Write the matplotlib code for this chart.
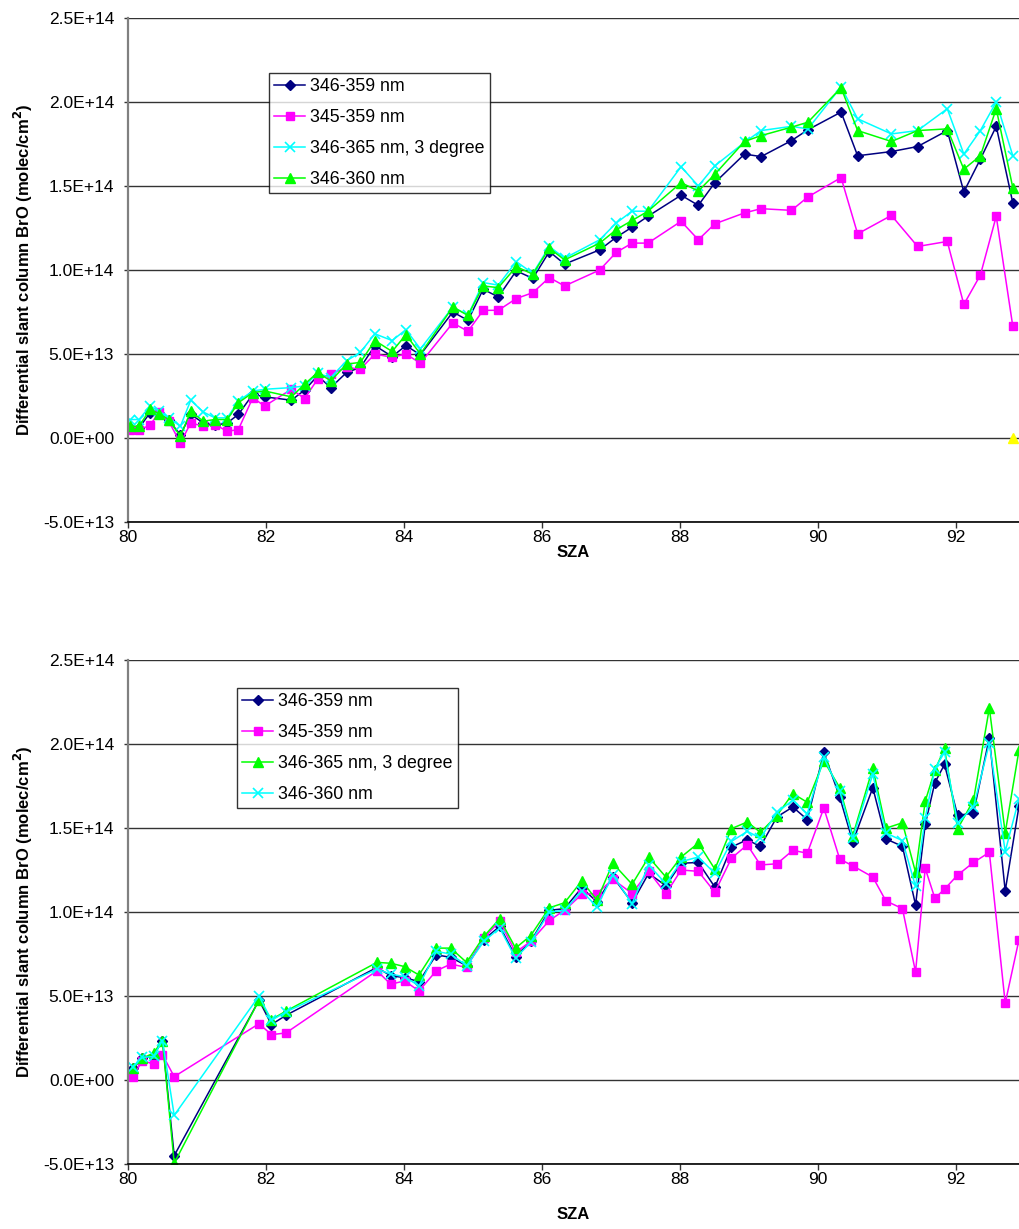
import matplotlib
matplotlib.use("Agg")
import matplotlib.pyplot as plt
from matplotlib.ticker import FuncFormatter, MultipleLocator

plt.rcParams['font.family'] = ['Liberation Sans', 'DejaVu Sans']

UNIT = 1e13  # column values below are in units of 1e13 molec/cm2

# ---- upper panel ----
sza_top = [80.03, 80.16, 80.32, 80.45, 80.59, 80.76, 80.91, 81.09, 81.26, 81.44,
           81.60, 81.81, 81.98, 82.37, 82.56, 82.75, 82.94, 83.17, 83.37, 83.58,
           83.83, 84.03, 84.24, 84.71, 84.93, 85.15, 85.37, 85.63, 85.87, 86.11,
           86.33, 86.84, 87.08, 87.31, 87.54, 88.02, 88.27, 88.51, 88.94, 89.18,
           89.62, 89.86, 90.34, 90.58, 91.07, 91.45, 91.88, 92.12, 92.36, 92.59,
           92.83]
top_346_359 = [0.6, 0.6, 1.5, 1.5, 1.05, 0.2, 1.4, 0.9, 0.75, 0.9,
               1.4, 2.6, 2.45, 2.25, 2.85, 3.7, 3.0, 3.9, 4.2, 5.5,
               4.85, 5.5, 4.95, 7.5, 7.0, 8.85, 8.4, 9.95, 9.5, 11.1,
               10.35, 11.2, 11.95, 12.55, 13.2, 14.45, 13.85, 15.2, 16.9, 16.75,
               17.7, 18.35, 19.4, 16.8, 17.05, 17.35, 18.3, 14.65, 16.6, 18.55,
               14.0]
top_345_359 = [0.5, 0.5, 0.75, 1.55, 1.0, -0.3, 0.9, 0.7, 0.8, 0.4,
               0.5, 2.4, 1.9, 2.9, 2.35, 3.5, 3.8, 4.2, 4.1, 5.0,
               4.8, 5.0, 4.45, 6.85, 6.35, 7.6, 7.6, 8.3, 8.65, 9.55,
               9.05, 10.0, 11.05, 11.6, 11.6, 12.9, 11.8, 12.75, 13.4, 13.65,
               13.55, 14.35, 15.5, 12.15, 13.25, 11.4, 11.7, 7.95, 9.7, 13.2,
               6.65]
top_346_365_3deg = [1.1, 1.1, 1.9, 1.6, 1.2, 0.7, 2.25, 1.55, 1.2, 1.2,
                    2.2, 2.8, 2.9, 3.0, 3.1, 3.85, 3.6, 4.6, 5.1, 6.2,
                    5.8, 6.45, 5.3, 7.8, 7.3, 9.25, 9.1, 10.5, 9.8, 11.4,
                    10.7, 11.8, 12.8, 13.5, 13.5, 16.15, 15.0, 16.2, 17.6, 18.3,
                    18.55, 18.4, 20.9, 19.0, 18.1, 18.3, 19.6, 16.9, 18.3, 20.0,
                    16.8]
top_346_360 = [0.7, 0.7, 1.7, 1.45, 1.1, 0.1, 1.6, 1.0, 1.1, 1.1,
               2.1, 2.7, 2.8, 2.45, 3.2, 3.9, 3.4, 4.4, 4.5, 5.8,
               5.15, 6.15, 5.0, 7.8, 7.3, 9.05, 8.95, 10.2, 9.75, 11.3,
               10.6, 11.6, 12.4, 12.95, 13.5, 15.2, 14.7, 15.7, 17.65, 18.0,
               18.5, 18.8, 20.85, 18.3, 17.65, 18.3, 18.4, 16.0, 16.8, 19.6,
               14.9]
top_extra_sza = [92.83]
top_extra = [0.0]

# ---- lower panel ----
sza_bot = [80.07, 80.21, 80.37, 80.50, 80.67, 81.90, 82.08, 82.29, 83.61, 83.81,
           84.01, 84.22, 84.47, 84.68, 84.91, 85.16, 85.39, 85.62, 85.84, 86.11,
           86.33, 86.58, 86.80, 87.03, 87.31, 87.55, 87.80, 88.02, 88.27, 88.51,
           88.75, 88.98, 89.17, 89.41, 89.64, 89.85, 90.09, 90.32, 90.51, 90.80,
           90.99, 91.23, 91.42, 91.56, 91.70, 91.84, 92.03, 92.26, 92.49, 92.72,
           92.92]
bot_346_359 = [0.7, 1.3, 1.45, 2.35, -4.5, 4.75, 3.3, 3.85, 6.7, 6.2,
               6.1, 5.85, 7.45, 7.3, 6.8, 8.35, 9.15, 7.35, 8.25, 10.1,
               10.2, 11.45, 10.6, 12.1, 10.55, 12.3, 11.56, 12.9, 12.95, 11.48,
               13.87, 14.3, 13.9, 15.66, 16.25, 15.5, 19.5, 16.85, 14.17, 17.4,
               14.35, 13.91, 10.42, 15.21, 17.7, 18.78, 15.75, 15.89, 20.38, 11.26,
               16.3]
bot_345_359 = [0.2, 1.15, 0.95, 1.5, 0.2, 3.35, 2.7, 2.8, 6.5, 5.7,
               5.9, 5.3, 6.5, 6.9, 6.7, 8.45, 9.45, 7.6, 8.25, 9.5,
               10.1, 11.05, 11.1, 11.95, 11.1, 12.42, 11.08, 12.5, 12.42, 11.18,
               13.2, 14.0, 12.8, 12.87, 13.67, 13.5, 16.19, 13.15, 12.75, 12.08,
               10.66, 10.2, 6.43, 12.6, 10.82, 11.36, 12.2, 12.95, 13.55, 4.57,
               8.36]
bot_346_365_3deg = [0.7, 1.3, 1.6, 2.35, -4.95, 4.75, 3.6, 4.1, 7.0, 6.95,
                    6.75, 6.25, 7.85, 7.85, 7.0, 8.55, 9.6, 7.85, 8.6, 10.25,
                    10.55, 11.85, 10.7, 12.9, 11.65, 13.27, 12.08, 13.27, 14.1, 12.55,
                    14.96, 15.36, 14.74, 15.74, 17.05, 16.53, 19.0, 17.4, 14.54, 18.58,
                    14.99, 15.31, 12.36, 16.59, 18.44, 19.74, 14.95, 16.65, 22.14, 14.71,
                    19.64]
bot_346_360 = [0.8, 1.35, 1.4, 2.35, -2.1, 5.0, 3.55, 4.05, 6.6, 6.3,
               6.15, 5.6, 7.65, 7.5, 6.8, 8.25, 9.05, 7.25, 8.2, 10.0,
               10.1, 11.25, 10.3, 12.2, 10.5, 12.8, 11.68, 13.0, 13.27, 12.3,
               14.2, 14.8, 14.4, 15.93, 16.65, 15.85, 19.2, 17.2, 14.4, 18.2,
               14.7, 14.25, 11.52, 15.59, 18.54, 19.5, 15.31, 16.25, 20.04, 13.6,
               16.75]

NAVY, MAGENTA, CYAN, LIME, YELLOW = '#000080', '#FF00FF', '#00FFFF', '#00FF00', '#FFFF00'
LW = 1.1

styles = {
    'diamond': dict(marker='D', ms=5.0),
    'square': dict(marker='s', ms=6.0),
    'triangle': dict(marker='^', ms=6.5),
    'x': dict(marker='x', ms=6.5, mew=1.2),
}


def scaled(vals):
    return [v * UNIT for v in vals]


def style_axes(ax, xlabelpad):
    ax.set_xlim(80, 92.92)
    ax.set_ylim(-5e13, 2.5e14)
    ax.xaxis.set_major_locator(MultipleLocator(2))
    ax.yaxis.set_major_locator(MultipleLocator(5e13))
    ax.yaxis.set_major_formatter(FuncFormatter(lambda v, p: f"{v:.1E}"))
    ax.grid(axis='y', color='#333333', linewidth=1.0)
    ax.set_axisbelow(True)
    for s in ('top', 'right'):
        ax.spines[s].set_visible(False)
    ax.spines['left'].set_color('#808080')
    ax.spines['left'].set_linewidth(1.6)
    ax.spines['bottom'].set_color('black')
    ax.spines['bottom'].set_linewidth(1.2)
    ax.tick_params(axis='y', direction='out', length=3, width=1,
                   labelsize=12.5, pad=7, color='#333333')
    ax.tick_params(axis='x', direction='out', length=4, width=1,
                   labelsize=12.5, pad=2, color='#333333')
    ax.set_xlabel('SZA', fontsize=12, fontweight='bold', labelpad=xlabelpad)
    ax.set_ylabel('Differential slant column BrO (molec/cm$^\\mathbf{2}$)',
                  fontsize=12, fontweight='bold', labelpad=6)


def add_legend(ax, anchor):
    leg = ax.legend(loc='upper left', bbox_to_anchor=anchor, fontsize=12.8,
                    frameon=True, fancybox=False, edgecolor='black',
                    handlelength=1.75, handletextpad=0.25, borderpad=0.3,
                    borderaxespad=0, labelspacing=0.78)
    leg.get_frame().set_linewidth(1.0)


W, H = 1019, 1229
fig = plt.figure(figsize=(W / 100, H / 100), dpi=100)

ax1 = fig.add_axes([128 / W, (H - 522) / H, 891 / W, 504 / H])
ax1.plot(sza_top, scaled(top_346_359), color=NAVY, lw=LW, label='346-359 nm', **styles['diamond'])
ax1.plot(sza_top, scaled(top_345_359), color=MAGENTA, lw=LW, label='345-359 nm', **styles['square'])
ax1.plot(sza_top, scaled(top_346_365_3deg), color=CYAN, lw=LW, label='346-365 nm, 3 degree', **styles['x'])
ax1.plot(sza_top, scaled(top_346_360), color=LIME, lw=LW, label='346-360 nm', **styles['triangle'])
ax1.plot(top_extra_sza, scaled(top_extra), color=YELLOW, lw=0, **styles['triangle'])
style_axes(ax1, xlabelpad=0)
add_legend(ax1, ((269 - 128) / 891, (522 - 73) / 504))

ax2 = fig.add_axes([128 / W, (H - 1164) / H, 891 / W, 504 / H])
ax2.plot(sza_bot, scaled(bot_346_359), color=NAVY, lw=LW, label='346-359 nm', **styles['diamond'])
ax2.plot(sza_bot, scaled(bot_345_359), color=MAGENTA, lw=LW, label='345-359 nm', **styles['square'])
ax2.plot(sza_bot, scaled(bot_346_365_3deg), color=LIME, lw=LW, label='346-365 nm, 3 degree', **styles['triangle'])
ax2.plot(sza_bot, scaled(bot_346_360), color=CYAN, lw=LW, label='346-360 nm', **styles['x'])
style_axes(ax2, xlabelpad=14)
add_legend(ax2, ((237 - 128) / 891, (1164 - 688) / 504))

fig.savefig('out.png', dpi=100, facecolor='white')
